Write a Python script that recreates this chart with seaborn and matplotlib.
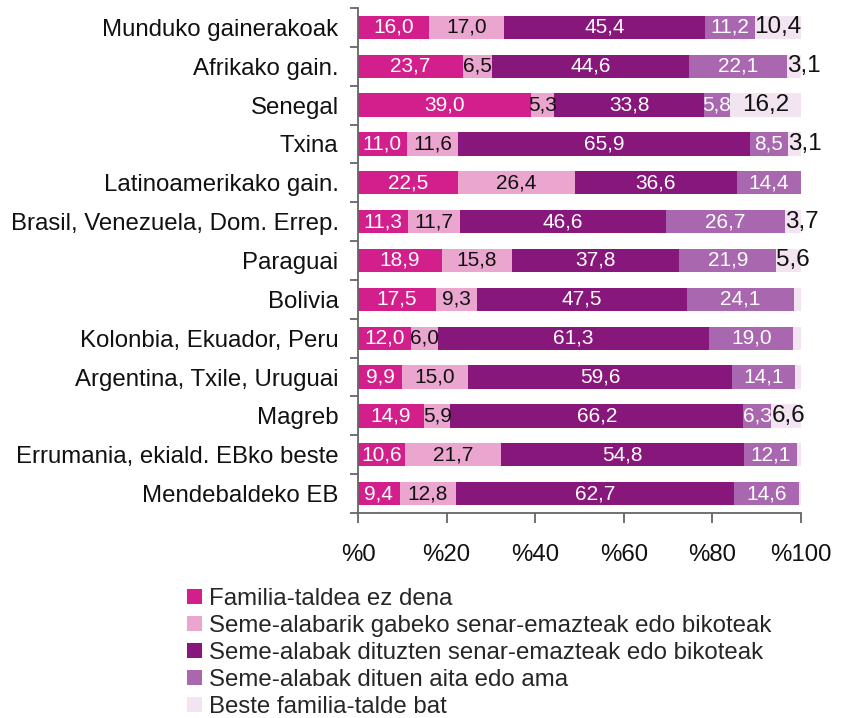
import numpy as np
import pandas as pd
import seaborn as sns
import matplotlib
import matplotlib.pyplot as plt

matplotlib.use('Agg')

# Data (percentages)
regions = [
    "Munduko gainerakoak",
    "Afrikako gain.",
    "Senegal",
    "Txina",
    "Latinoamerikako gain.",
    "Brasil, Venezuela, Dom. Errep.",
    "Paraguai",
    "Bolivia",
    "Kolonbia, Ekuador, Peru",
    "Argentina, Txile, Uruguai",
    "Magreb",
    "Errumania, ekiald. EBko beste",
    "Mendebaldeko EB",
]
no_family = [16.0, 23.7, 39.0, 11.0, 22.5, 11.3, 18.9, 17.5, 12.0, 9.9, 14.9, 10.6, 9.4]
couple_no_kids = [17.0, 6.5, 5.3, 11.6, 26.4, 11.7, 15.8, 9.3, 6.0, 15.0, 5.9, 21.7, 12.8]
couple_kids = [45.4, 44.6, 33.8, 65.9, 36.6, 46.6, 37.8, 47.5, 61.3, 59.6, 66.2, 54.8, 62.7]
single_parent = [11.2, 22.1, 5.8, 8.5, 14.4, 26.7, 21.9, 24.1, 19.0, 14.1, 6.3, 12.1, 14.6]
other = [10.4, 3.1, 16.2, 3.1, 0.1, 3.7, 5.6, 1.6, 1.7, 1.4, 6.6, 0.8, 0.5]

series_names = [
    "Familia-taldea ez dena",
    "Seme-alabarik gabeko senar-emazteak edo bikoteak",
    "Seme-alabak dituzten senar-emazteak edo bikoteak",
    "Seme-alabak dituen aita edo ama",
    "Beste familia-talde bat",
]
colors = ["#d31f8c", "#eba6d0", "#88177b", "#a967af", "#f3e4f1"]
text_colors = ["white", "#111111", "white", "white", "#111111"]

df = pd.DataFrame({
    "region": regions,
    series_names[0]: no_family,
    series_names[1]: couple_no_kids,
    series_names[2]: couple_kids,
    series_names[3]: single_parent,
    series_names[4]: other,
})
cum = df[series_names].cumsum(axis=1)

sns.set_style("white")
plt.rcParams['font.family'] = ['Liberation Sans', 'DejaVu Sans']

fig = plt.figure(figsize=(8.48, 7.18), dpi=100)
ax = fig.add_axes([0.4222, 0.2855, 0.5224, 0.7034])

# stacked bars: draw cumulative totals from the outermost segment inwards
for i in range(len(series_names) - 1, -1, -1):
    sns.barplot(x=cum[series_names[i]], y=df["region"], color=colors[i],
                orient="h", width=0.6, saturation=1, edgecolor="none",
                linewidth=0, ax=ax, label=series_names[i])

# value labels
for i, name in enumerate(series_names):
    starts = cum[name] - df[name]
    for row, (val, start) in enumerate(zip(df[name], starts)):
        txt = f"{val:.1f}".replace(".", ",")
        if i == 4:
            if val < 3:
                continue
            if val < 8:
                ax.text(start, row, txt, ha="left", va="center",
                        color=text_colors[i], fontsize=17.5)
            else:
                ax.text(start + val / 2, row, txt, ha="center", va="center",
                        color=text_colors[i], fontsize=17.5)
        else:
            ax.text(start + val / 2, row, txt, ha="center", va="center",
                    color=text_colors[i], fontsize=15)

ax.set_xlim(0, 100)
ax.set_ylim(len(regions) - 0.5, -0.5)
ax.set_xticks([0, 20, 40, 60, 80, 100])
ax.set_xticklabels([f"%{v}" for v in [0, 20, 40, 60, 80, 100]], fontsize=17.3)
ax.set_yticks(range(len(regions)))
ax.set_yticklabels(regions, fontsize=17.3)
ax.set_yticks(np.arange(-0.5, len(regions)), minor=True)
ax.set_xlabel("")
ax.set_ylabel("")

for side in ["top", "right"]:
    ax.spines[side].set_visible(False)
for side in ["left", "bottom"]:
    ax.spines[side].set_color("#666666")
    ax.spines[side].set_linewidth(1.3)

ax.tick_params(axis="y", which="major", length=0, pad=14, colors="#111111")
ax.tick_params(axis="y", which="minor", length=6, width=1.3, color="#666666", left=True)
ax.tick_params(axis="x", which="major", length=7, width=1.3, color="#666666",
               pad=15, bottom=True, labelcolor="#111111")

# legend below the chart
handles, labels = ax.get_legend_handles_labels()
lookup = {lab: h for h, lab in zip(handles, labels)}
if ax.get_legend():
    ax.get_legend().remove()
fig.legend([lookup[n] for n in series_names], series_names,
           loc="upper left", bbox_to_anchor=(0.221, 0.181), frameon=False,
           fontsize=17.3, handlelength=0.6, handleheight=0.6,
           handletextpad=0.3, labelspacing=0.21, borderpad=0, borderaxespad=0)

fig.savefig("out.png", dpi=100)
plt.close(fig)
